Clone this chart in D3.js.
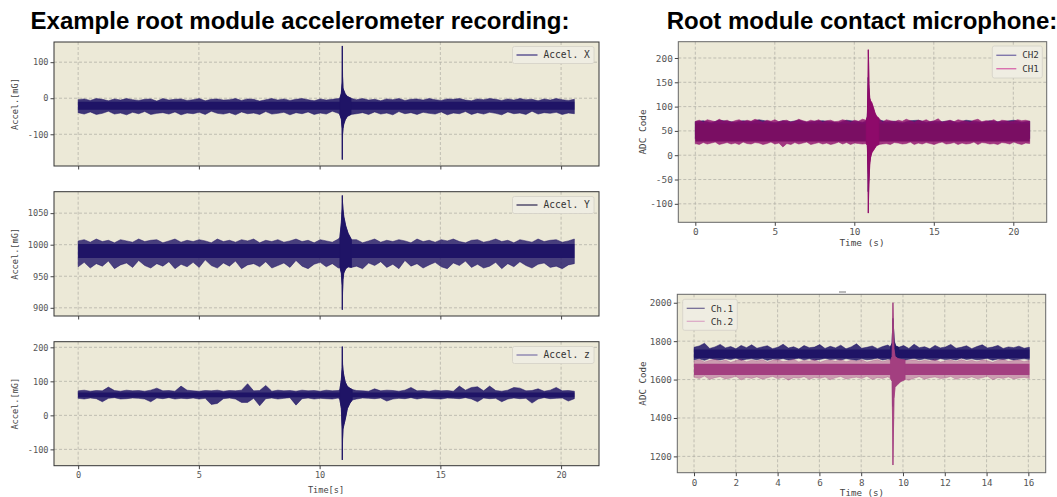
<!DOCTYPE html>
<html lang="en">
<head>
<meta charset="utf-8">
<title>Root module recordings</title>
<script src="https://cdn.jsdelivr.net/npm/d3@7"></script>
<style>
  body { margin: 0; background: #fff; }
  .tick text { font-family: "DejaVu Sans Mono", monospace; fill: #555; }
  .tick line { stroke: #444; }
  .title { font-family: "Liberation Sans", Arial, sans-serif; font-weight: bold; font-size: 24px; fill: #000; }
  .lab { font-family: "DejaVu Sans Mono", monospace; fill: #444; }
  .leg { font-family: "DejaVu Sans Mono", monospace; fill: #333; }
</style>
</head>
<body>
<div id="chart"></div>
<script>
// ---- data ----
// accelerometer, samples every ~0.25 s from 0 to 20.55 s
var accXHi = [-4,-2,-6,-1,-3,-7,-2,-5,-1,-4,-6,-3,-2,-8,-1,-5,-3,-2,-6,-4,-1,-7,-3,-2,-5,-4,-1,-6,-2,-3,-8,-4,-1,-5,-2,-6,-3,-1,-4,-7,-2,-5,-3,-1,-6,-2,-4,-1,-5,-3,-7,-2,-4,-1,-6,-3,-2,-5,-1,-4,-6,-2,-3,-1,-5,-7,-2,-4,-1,-3,-6,-2,-5,-1,-4,-3,-7,-2,-5,-1,-4,-6,-3]
var accXLo = [-40,-44,-38,-45,-42,-36,-44,-41,-46,-39,-43,-37,-45,-42,-40,-44,-38,-46,-41,-43,-39,-45,-36,-42,-44,-40,-46,-38,-43,-41,-45,-37,-44,-42,-39,-46,-40,-43,-38,-45,-41,-44,-36,-42,-46,-39,-43,-40,-45,-38,-44,-41,-46,-37,-43,-40,-45,-39,-42,-44,-38,-46,-41,-43,-37,-45,-40,-44,-39,-42,-46,-38,-43,-41,-45,-36,-44,-40,-42,-39,-45,-41,-43]
var accXCore = [-32, -10]
var accXEvent = [[10.84,-46,0],[10.90,-58,14],[10.93,-85,45],[10.94,-170,145],[10.95,-100,60],[10.97,-84,28],[11.00,-72,22],[11.06,-60,12],[11.15,-50,5],[11.30,-45,0]]

var accYHi = [1006,1008,1004,1009,1005,1007,1003,1008,1006,1004,1009,1005,1007,1008,1003,1006,1009,1004,1007,1005,1008,1006,1003,1009,1005,1007,1004,1008,1006,1009,1003,1007,1005,1008,1004,1006,1009,1005,1007,1003,1008,1006,1004,1009,1007,1005,1008,1003,1006,1009,1004,1007,1005,1008,1006,1003,1009,1005,1007,1004,1008,1006,1009,1005,1003,1007,1008,1004,1006,1009,1005,1007,1003,1008,1006,1004,1009,1005,1007,1008,1004,1006,1009]
var accYLo = [965,972,963,970,966,974,962,968,971,964,975,967,963,970,966,973,962,969,965,972,964,976,967,963,971,966,974,962,968,970,965,973,963,967,971,964,975,966,962,969,972,965,970,963,968,974,966,962,971,967,973,964,969,962,975,966,970,963,968,972,965,962,971,967,974,964,969,963,966,972,962,970,965,973,967,963,969,971,964,966,962,968,970]
var accYCore = [979, 1001]
var accYEvent = [[10.84,964,1012],[10.90,955,1035],[10.93,935,1058],[10.94,897,1078],[10.95,925,1066],[10.97,945,1056],[11.00,955,1045],[11.08,962,1030],[11.18,965,1018],[11.32,964,1008]]

var accZHi = [72,74,71,73,72,83,73,71,74,72, 73,71,74,80,72,73,71,86,74,72, 71,73,72,74,71,73,72,74,93,72, 73,88,71,74,72,73,71,74,72,73, 71,74,72,73,71,74,73,72,71,78, 72,74,73,71,74,82,72,73,71,74, 72,73,71,86,74,82,84,72,86,73, 71,74,82,80,72,73,78,71,74,82, 72,73,71]
var accZLo = [50,48,51,49,40,50,52,48,49,51, 50,48,40,51,49,52,48,50,49,51, 48,50,32,35,49,51,48,38,38,50, 28,49,51,48,50,52,30,49,51,48, 50,49,48,51,50,49,48,51,50,49, 51,42,48,50,49,52,48,51,50,49, 48,51,50,49,52,48,40,51,49,50, 40,48,51,49,50,36,48,52,49,50, 51,42,49]
var accZCore = [53, 67]
var accZEvent = [[10.84,46,76],[10.90,20,105],[10.93,-40,140],[10.94,-131,202],[10.95,-70,150],[10.97,-40,133],[11.00,-30,118],[11.06,-12,98],[11.15,20,85],[11.25,35,80],[11.35,45,76]]

// contact microphone, 0 to 21.03 s
var ch1Hi = [70,72,68,73,71,69,74,70,72,68,71,73,69,72,70,74,71,68,72,70,73,69,71,72,68,70,74,71,69,72,70,73,68,71,72,69,70,73,71,68,72,70,74,69,71,72,70,68,73,71,69,72,70,74,71,68,72,70,73,69,71,75,68,70,72,69,73,71,70,68,72,74,69,71,70,73,68,72,71,69,70,73,71,72,70]
var ch1Lo = [24,22,26,23,25,27,22,24,26,23,25,22,27,24,23,26,25,22,24,27,23,25,17,24,22,26,23,25,27,22,24,26,23,25,22,24,27,23,26,22,25,24,23,26,22,25,27,23,24,22,26,25,23,24,27,22,25,23,26,24,22,25,27,23,24,26,22,25,23,24,27,22,26,25,23,24,22,26,25,23,27,24,22,25,24]
var ch1Core = [28, 64]
var ch1Event = [[10.75,24,72],[10.82,20,80],[10.86,-40,150],[10.88,-119,217],[10.90,-80,190],[10.93,-50,140],[10.97,-20,118],[11.02,-5,112],[11.10,5,108],[11.20,10,98],[11.30,15,87],[11.40,20,80],[11.55,22,76]]
var ch2Hi = [69,71,67,72,70,68,71,69,73,70,67,71,69,72,68,70,71,69,67,72,70,68,71,73,69,70,67,71,72,68,70,69,71,67,72,70,68,71,69,70,72,68,70]
var ch2Lo = [34,32,35,33,36,32,34,35,33,31,34,36,33,32,35,34,33,36,32,34,35,33,31,34,36,32,35,33,34,32,36,33,35,34,32,33,35,36,32,34,33,35,34]
var ch2Core = [36, 66]
var ch2Event = [[10.75,32,70],[10.82,25,78],[10.86,-20,120],[10.88,-75,160],[10.91,-40,130],[10.96,-10,110],[11.05,10,100],[11.20,20,90],[11.35,28,80],[11.50,32,72]]

// second microphone recording, 0 to 16.05 s
var m1Hi = [1768,1775,1789,1762,1770,1783,1765,1772,1760,1778,1766,1781,1763,1770,1776,1761,1768,1784,1764,1771,1759,1777,1766,1769,1782,1762,1773,1765,1779,1760,1770,1786,1763,1768,1775,1761,1772,1780,1764,1769,1777,1762,1784,1766,1771,1760,1778,1765,1770,1783,1763,1768,1776,1761,1772,1781,1765,1769,1778,1762,1770,1766,1774,1763,1768]
var m1Lo = [1703,1708,1700,1710,1705,1702,1709,1704,1711,1701,1706,1708,1703,1710,1700,1707,1705,1709,1702,1706,1711,1703,1708,1701,1705,1710,1704,1707,1702,1709,1705,1700,1708,1703,1706,1711,1702,1707,1704,1709,1701,1706,1710,1703,1708,1705,1700,1709,1704,1707,1702,1711,1705,1708,1703,1706,1710,1701,1707,1704,1709,1702,1706,1708,1705]
var m1Core = [1712, 1756]
var m1Event = [[9.40,1705,1770],[9.48,1690,1790],[9.50,1600,1850],[9.52,1460,1918],[9.54,1550,1880],[9.58,1680,1800],[9.65,1700,1775],[9.80,1705,1768]]
var m2Hi = [1698,1704,1692,1700,1706,1695,1702,1690,1699,1705,1693,1701,1697,1704,1691,1700,1703,1694,1698,1706,1692,1701,1696,1704,1690,1699,1702,1695,1705,1693,1700,1697,1703,1691,1698,1704,1694,1701,1696,1706,1692,1699,1703,1695,1700,1697,1705,1691,1698,1702,1694,1704,1696,1700,1693,1703,1698,1690,1701,1705,1695,1699,1702,1694,1700]
var m2Lo = [1612,1605,1618,1600,1610,1615,1603,1608,1617,1598,1611,1606,1614,1602,1609,1616,1604,1612,1597,1610,1607,1615,1601,1611,1606,1613,1599,1609,1616,1603,1608,1612,1605,1617,1600,1610,1606,1614,1603,1609,1611,1596,1607,1615,1602,1610,1613,1605,1608,1616,1601,1611,1606,1614,1604,1609,1617,1599,1610,1606,1613,1603,1608,1611,1605]
var m2Core = [1624, 1682]
var m2Event = [[9.40,1605,1700],[9.48,1590,1720],[9.50,1400,1850],[9.52,1155,2000],[9.54,1300,1900],[9.57,1500,1760],[9.62,1560,1720],[9.75,1575,1710],[9.90,1590,1705],[10.10,1600,1702]]

var accXTicks = [0, 5, 10, 15, 20]
var accYTicksX = [-100, 0, 100]
var accYTicksY = [900, 950, 1000, 1050]
var accYTicksZ = [-100, 0, 100, 200]
var micXTicks = [0, 5, 10, 15, 20]
var micYTicks = [-100, -50, 0, 50, 100, 150, 200]
var mic2XTicks = [0, 2, 4, 6, 8, 10, 12, 14, 16]
var mic2YTicks = [1200, 1400, 1600, 1800, 2000]

// ---- drawing ----
var W = 1057, H = 497
var navy = "#1f1466"
var bg = "#ece9d7"

var svg = d3.select("#chart").append("svg").attr("width", W).attr("height", H)

svg.append("text").attr("class", "title").attr("x", 300).attr("y", 29)
   .attr("text-anchor", "middle").text("Example root module accelerometer recording:")
svg.append("text").attr("class", "title").attr("x", 862).attr("y", 29)
   .attr("text-anchor", "middle").text("Root module contact microphone:")

function envelope(hi, lo, tEnd, ev) {
  var n = Math.min(hi.length, lo.length)
  var pts = []
  for (var i = 0; i < n; i++) pts.push({ t: i * tEnd / (n - 1), hi: hi[i], lo: lo[i] })
  if (ev) {
    var t0 = ev[0][0], t1 = ev[ev.length - 1][0]
    pts = pts.filter(function(p){ return p.t < t0 || p.t > t1 })
      .concat(ev.map(function(e){ return { t: e[0], lo: e[1], hi: e[2] } }))
      .sort(function(a, b){ return a.t - b.t })
  }
  return pts
}

var clipId = 0
function panel(o) {
  var x = d3.scaleLinear().domain(o.xd).range([o.x0, o.x1])
  var y = d3.scaleLinear().domain(o.yd).range([o.y1, o.y0])
  var g = svg.append("g")
  g.append("rect").attr("x", o.x0).attr("y", o.y0).attr("width", o.x1 - o.x0).attr("height", o.y1 - o.y0)
   .attr("fill", bg)

  // grid
  g.selectAll(".gx").data(o.xt).enter().append("line")
   .attr("x1", function(d){ return x(d) }).attr("x2", function(d){ return x(d) })
   .attr("y1", o.y0).attr("y2", o.y1)
   .attr("stroke", "#b4b2a8").attr("stroke-width", 0.8).attr("stroke-dasharray", "3,2")
  g.selectAll(".gy").data(o.yt).enter().append("line")
   .attr("y1", function(d){ return y(d) }).attr("y2", function(d){ return y(d) })
   .attr("x1", o.x0).attr("x2", o.x1)
   .attr("stroke", "#b4b2a8").attr("stroke-width", 0.8).attr("stroke-dasharray", "3,2")

  var cid = "clip" + (clipId++)
  svg.append("clipPath").attr("id", cid).append("rect")
     .attr("x", o.x0).attr("y", o.y0).attr("width", o.x1 - o.x0).attr("height", o.y1 - o.y0)
  var plot = g.append("g").attr("clip-path", "url(#" + cid + ")")

  o.series.forEach(function(s) {
    var pts = envelope(s.hi, s.lo, s.tEnd, s.ev)
    var area = d3.area().x(function(d){ return x(d.t) })
      .y0(function(d){ return y(d.lo) }).y1(function(d){ return y(d.hi) })
    // outer envelope of the noise
    plot.append("path").datum(pts).attr("d", area)
      .attr("fill", s.color).attr("fill-opacity", s.outer)
      .attr("stroke", s.color).attr("stroke-width", 0.6).attr("stroke-opacity", s.outer)
    // dense core
    var core = [{ t: 0, lo: s.core[0], hi: s.core[1] }, { t: s.tEnd, lo: s.core[0], hi: s.core[1] }]
    plot.append("path").datum(core).attr("d", area).attr("fill", s.coreColor || s.color)
    // event drawn solid so the spike reads as a line
    if (s.ev) {
      var evPts = s.ev.map(function(e){ return { t: e[0], lo: e[1], hi: e[2] } })
      plot.append("path").datum(evPts).attr("d", area)
        .attr("fill", s.color).attr("stroke", s.color).attr("stroke-width", 0.8)
    }
  })

  g.append("rect").attr("x", o.x0).attr("y", o.y0).attr("width", o.x1 - o.x0).attr("height", o.y1 - o.y0)
   .attr("fill", "none").attr("stroke", o.spine).attr("stroke-width", 1)

  var ax = g.append("g").attr("transform", "translate(0," + o.y1 + ")")
    .call(d3.axisBottom(x).tickValues(o.xt).tickSize(3.5).tickPadding(3)
      .tickFormat(o.xLabels ? d3.format("d") : function(){ return "" }))
  var ay = g.append("g").attr("transform", "translate(" + o.x0 + ",0)")
    .call(d3.axisLeft(y).tickValues(o.yt).tickSize(3.5).tickPadding(2).tickFormat(d3.format("d")))
  ax.select(".domain").remove()
  ay.select(".domain").remove()
  g.selectAll(".tick text").style("font-size", o.fs + "px")
  g.selectAll(".tick text").text(function(){ return this.textContent.replace("\u2212", "-") })

  if (o.ylab) {
    g.append("text").attr("class", "lab").attr("transform", "translate(" + o.ylabX + "," + ((o.y0 + o.y1) / 2) + ") rotate(-90)")
     .attr("text-anchor", "middle").attr("dy", "0.35em").style("font-size", o.fs + "px").text(o.ylab)
  }
  if (o.xlab) {
    g.append("text").attr("class", "lab").attr("x", o.xlabX).attr("y", o.xlabY)
     .attr("text-anchor", "middle").style("font-size", o.fs + "px").text(o.xlab)
  }

  // legend
  var L = o.legend
  var lg = g.append("g")
  lg.append("rect").attr("x", L.x).attr("y", L.y).attr("width", L.w).attr("height", L.rowH * L.items.length + 5)
    .attr("rx", 2).attr("fill", "#efede2").attr("stroke", "#d3d1c6").attr("stroke-width", 0.8)
  L.items.forEach(function(it, i) {
    var cy = L.y + 2.5 + L.rowH * (i + 0.5)
    lg.append("line").attr("x1", L.x + 4).attr("x2", L.x + 4 + L.lineW).attr("y1", cy).attr("y2", cy)
      .attr("stroke", it.color).attr("stroke-width", 1.2)
    lg.append("text").attr("class", "leg").attr("x", L.x + 10 + L.lineW).attr("y", cy).attr("dy", "0.35em")
      .style("font-size", L.fs + "px").text(it.name)
  })
}

var leftX = [-1.0, 21.57]
panel({ x0: 54, x1: 599, y0: 42, y1: 166, xd: leftX, yd: [-188, 156], xt: accXTicks, yt: accYTicksX,
  spine: "#333", fs: 8.6, ylab: "Accel.[mG]", ylabX: 15,
  series: [{ hi: accXHi, lo: accXLo, core: accXCore, ev: accXEvent, tEnd: 20.55, color: navy, outer: 0.85 }],
  legend: { x: 512.5, y: 46.5, w: 81.5, rowH: 12, lineW: 21, fs: 9.6, items: [{ name: "Accel. X", color: "#3a2f80" }] } })
panel({ x0: 54, x1: 599, y0: 191.7, y1: 316, xd: leftX, yd: [887, 1084], xt: accXTicks, yt: accYTicksY,
  spine: "#333", fs: 8.6, ylab: "Accel.[mG]", ylabX: 15,
  series: [{ hi: accYHi, lo: accYLo, core: accYCore, ev: accYEvent, tEnd: 20.55, color: navy, outer: 0.8 }],
  legend: { x: 512.5, y: 196.5, w: 81.5, rowH: 12, lineW: 21, fs: 9.6, items: [{ name: "Accel. Y", color: "#2a2350" }] } })
panel({ x0: 54, x1: 599, y0: 341.7, y1: 465.7, xd: leftX, yd: [-148, 216.5], xt: accXTicks, yt: accYTicksZ,
  spine: "#333", fs: 8.6, ylab: "Accel.[mG]", ylabX: 15, xLabels: true,
  xlab: "Time[s]", xlabX: 326, xlabY: 493,
  series: [{ hi: accZHi, lo: accZLo, core: accZCore, ev: accZEvent, tEnd: 20.55, color: navy, outer: 0.85 }],
  legend: { x: 512.5, y: 346.5, w: 81.5, rowH: 12, lineW: 21, fs: 9.6, items: [{ name: "Accel. z", color: "#7b72a8" }] } })

panel({ x0: 678.3, x1: 1046.7, y0: 41.7, y1: 222.3, xd: [-1.07, 22.1], yd: [-138, 233.5], xt: micXTicks, yt: micYTicks,
  spine: "#666", fs: 9.4, ylab: "ADC Code", ylabX: 643, xLabels: true,
  xlab: "Time (s)", xlabX: 862, xlabY: 246,
  series: [
    { hi: ch2Hi, lo: ch2Lo, core: ch2Core, ev: ch2Event, tEnd: 21.03, color: "#2a1468", outer: 0.9 },
    { hi: ch1Hi, lo: ch1Lo, core: ch1Core, ev: ch1Event, tEnd: 21.03, color: "#8e0a6a", coreColor: "#7a0e63", outer: 0.8 }
  ],
  legend: { x: 992.3, y: 46, w: 50, rowH: 13.5, lineW: 20, fs: 9.2,
    items: [{ name: "CH2", color: "#6d62a2" }, { name: "CH1", color: "#d55ba6" }] } })

panel({ x0: 677.3, x1: 1045.7, y0: 294.3, y1: 472.7, xd: [-0.8, 16.83], yd: [1115, 2044], xt: mic2XTicks, yt: mic2YTicks,
  spine: "#666", fs: 9.2, ylab: "ADC Code", ylabX: 643, xLabels: true,
  xlab: "Time (s)", xlabX: 862, xlabY: 496,
  series: [
    { hi: m1Hi, lo: m1Lo, core: m1Core, ev: m1Event, tEnd: 16.05, color: navy, outer: 0.85 },
    { hi: m2Hi, lo: m2Lo, core: m2Core, ev: m2Event, tEnd: 16.05, color: "#a33f80", outer: 0.45 }
  ],
  legend: { x: 682.7, y: 299.3, w: 54.6, rowH: 13, lineW: 18, fs: 9.4,
    items: [{ name: "Ch.1", color: "#6d6591" }, { name: "Ch.2", color: "#dba6c6" }] } })

// stray title mark above the lower microphone plot
svg.append("line").attr("x1", 839).attr("x2", 846).attr("y1", 292).attr("y2", 292)
   .attr("stroke", "#777").attr("stroke-width", 1)
</script>
</body>
</html>
